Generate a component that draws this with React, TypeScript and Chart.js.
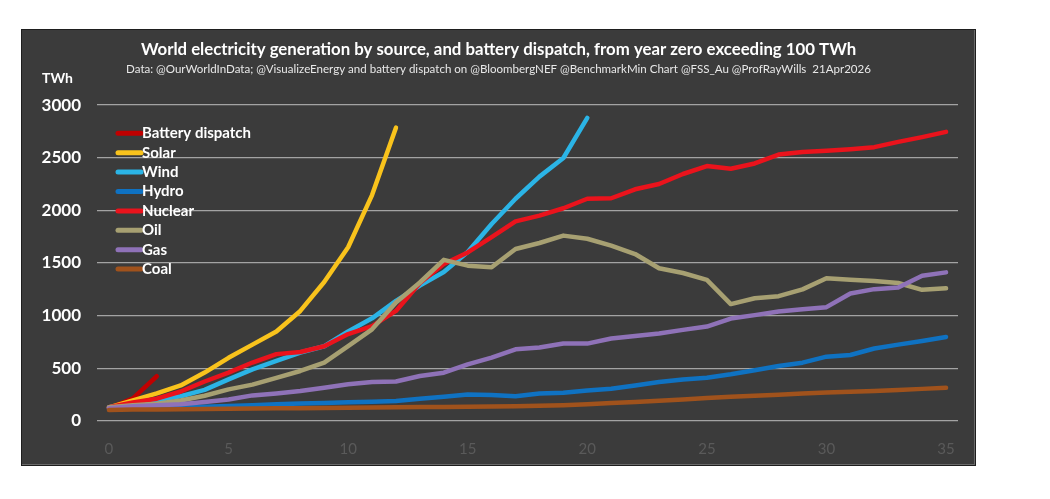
import React, { useEffect, useRef } from "react";
import { Chart, registerables } from "chart.js";

Chart.register(...registerables);

const titleText =
  "World electricity generation by source, and battery dispatch, from year zero exceeding 100 TWh";
const subtitleText =
  "Data: @OurWorldInData; @VisualizeEnergy and battery dispatch on @BloombergNEF @BenchmarkMin Chart @FSS_Au @ProfRayWills  21Apr2026";
const yUnit = "TWh";
const xTicks = [0, 5, 10, 15, 20, 25, 30, 35];

const seriesNames = ["Battery dispatch", "Solar", "Wind", "Hydro", "Nuclear", "Oil", "Gas", "Coal"];
const seriesColors = ["#c00000", "#f9c31c", "#2bb4e6", "#0f72c2", "#ea131c", "#a7a072", "#8f72b8", "#a0521c"];

const battery = [120, 215, 425];
const solar = [130, 195, 262, 338, 460, 600, 725, 850, 1045, 1320, 1650, 2145, 2785];
const wind = [130, 160, 200, 235, 295, 395, 490, 570, 650, 710, 850, 975, 1140, 1285, 1415, 1605, 1870, 2110, 2320, 2497, 2878];
const hydro = [115, 120, 125, 130, 135, 142, 150, 158, 165, 172, 178, 183, 190, 211, 230, 252, 246, 236, 262, 268, 290, 306, 338, 370, 395, 411, 443, 481, 522, 554, 611, 627, 688, 725, 760, 798];
const nuclear = [130, 175, 212, 280, 375, 460, 555, 635, 655, 710, 825, 900, 1045, 1310, 1490, 1600, 1745, 1895, 1950, 2020, 2110, 2115, 2200, 2250, 2345, 2420, 2395, 2445, 2530, 2555, 2565, 2580, 2600, 2650, 2695, 2745];
const oil = [130, 150, 165, 195, 240, 300, 345, 410, 475, 555, 710, 870, 1125, 1315, 1530, 1475, 1460, 1633, 1690, 1760, 1730, 1665, 1585, 1450, 1405, 1340, 1110, 1165, 1185, 1250, 1355, 1340, 1330, 1310, 1245, 1260];
const gas = [120, 140, 150, 160, 180, 205, 243, 262, 284, 316, 348, 370, 375, 427, 459, 538, 602, 681, 697, 735, 735, 783, 808, 830, 865, 897, 973, 1005, 1040, 1062, 1081, 1211, 1252, 1268, 1379, 1411];
const coal = [105, 108, 110, 112, 114, 116, 118, 120, 122, 124, 126, 128, 130, 132, 134, 136, 138, 140, 145, 150, 160, 170, 180, 192, 205, 218, 230, 240, 250, 260, 270, 278, 286, 295, 305, 315];

const seriesValues = [battery, solar, wind, hydro, nuclear, oil, gas, coal];

const FONT = "Lato";

const overlayPlugin = {
  id: "overlay",
  afterDraw(chart: any) {
    const { ctx, chartArea } = chart;
    ctx.save();
    ctx.fillStyle = "#ffffff";
    ctx.textAlign = "left";
    ctx.textBaseline = "middle";
    ctx.font = `bold 14px ${FONT}`;
    ctx.fillText(yUnit, 20, 48);
    chart.data.datasets.forEach((ds: any, k: number) => {
      const y = chartArea.top + 28.3 + k * 19.4;
      ctx.strokeStyle = ds.borderColor;
      ctx.lineWidth = 5;
      ctx.lineCap = "round";
      ctx.beginPath();
      ctx.moveTo(chartArea.left + 21, y);
      ctx.lineTo(chartArea.left + 44, y);
      ctx.stroke();
      ctx.fillStyle = "#ffffff";
      ctx.font = `bold 15px ${FONT}`;
      ctx.fillText(ds.label, chartArea.left + 45, y);
    });
    ctx.restore();
  },
};

export default function App() {
  const ref = useRef<HTMLCanvasElement | null>(null);

  useEffect(() => {
    if (!ref.current) return;
    const datasets = seriesNames.map((name, i) => ({
      label: name,
      data: seriesValues[i].map((v, x) => ({ x, y: v })),
      borderColor: seriesColors[i],
      backgroundColor: seriesColors[i],
      borderWidth: 4.5,
      pointRadius: 0,
      tension: 0,
      borderCapStyle: "round" as const,
      borderJoinStyle: "round" as const,
      order: seriesNames.length - i,
    }));
    const chart = new Chart(ref.current, {
      type: "line",
      data: { datasets },
      options: {
        animation: false,
        responsive: false,
        layout: { padding: { left: 17, right: 17, top: 0, bottom: 0 } },
        plugins: {
          legend: { display: false },
          tooltip: { enabled: false },
          title: {
            display: true,
            text: titleText,
            color: "#ffffff",
            font: { family: FONT, size: 16.8, weight: "bold" },
            padding: { top: 10, bottom: 2 },
          },
          subtitle: {
            display: true,
            text: subtitleText,
            color: "#e8e8e8",
            font: { family: FONT, size: 11.55 },
            padding: { top: 0, bottom: 29 },
          },
        },
        scales: {
          x: {
            type: "linear",
            min: -0.5,
            max: 35.5,
            grid: { display: false },
            border: { display: false },
            afterBuildTicks: (scale: any) => {
              scale.ticks = xTicks.map((v) => ({ value: v }));
            },
            afterFit: (scale: any) => {
              scale.height = 44;
            },
            ticks: {
              color: "#5a5a5a",
              font: { family: FONT, size: 15 },
              padding: 11,
              autoSkip: false,
              maxRotation: 0,
              callback: (v: any) => String(v),
            },
          },
          y: {
            min: 0,
            max: 3000,
            grid: { color: "#a3a3a3", lineWidth: 1.3, drawTicks: false },
            border: { display: false },
            afterFit: (scale: any) => {
              scale.width = 58;
            },
            ticks: {
              stepSize: 500,
              color: "#ffffff",
              font: { family: FONT, size: 17, weight: "bold" },
              padding: 16,
              callback: (v: any) => String(v),
            },
          },
        },
      },
      plugins: [overlayPlugin],
    });
    return () => chart.destroy();
  }, []);

  return (
    <div
      style={{
        position: "absolute",
        left: 22,
        top: 30,
        width: 953,
        height: 435,
        background: "#3b3b3b",
        boxShadow: "0 0 0 1px #1e1e1e, inset -1px -1px 0 #6a6a6a",
      }}
    >
      <canvas ref={ref} width={953} height={435} style={{ display: "block" }} />
    </div>
  );
}
